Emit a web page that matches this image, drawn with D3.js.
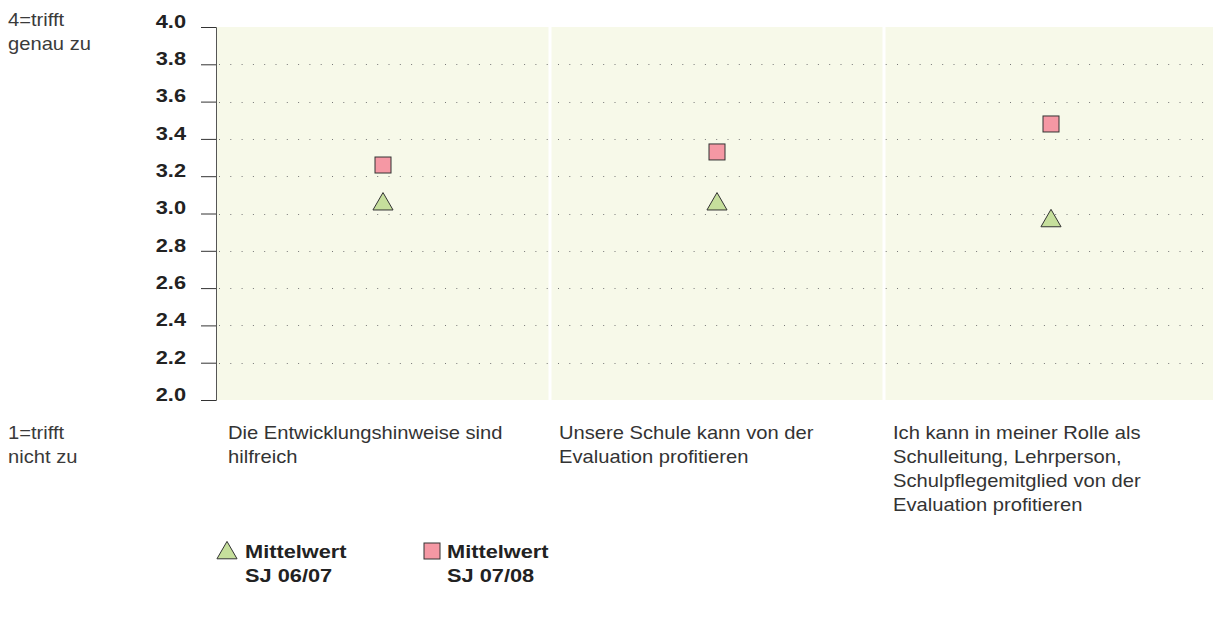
<!DOCTYPE html>
<html>
<head>
<meta charset="utf-8">
<script src="https://cdn.jsdelivr.net/npm/d3@7"></script>
<style>
  body { margin: 0; background: #fff; }
  svg { display: block; font-family: "Liberation Sans", Arial, sans-serif; }
</style>
</head>
<body>
<svg width="1213" height="618"></svg>
<script>
// data
const categories = [
    ["Die Entwicklungshinweise sind", "hilfreich"],
    ["Unsere Schule kann von der", "Evaluation profitieren"],
    ["Ich kann in meiner Rolle als", "Schulleitung, Lehrperson,", "Schulpflegemitglied von der", "Evaluation profitieren"]
];
const mittel0607 = [3.05, 3.05, 2.96];
const mittel0708 = [3.26, 3.33, 3.48];
const yTicks = [2.0, 2.2, 2.4, 2.6, 2.8, 3.0, 3.2, 3.4, 3.6, 3.8, 4.0];
const seriesNames = [["Mittelwert", "SJ 06/07"], ["Mittelwert", "SJ 07/08"]];

const plotLeft = 216, plotRight = 1213, plotTop = 27, plotBottom = 400;
const wideReg = 1.12, wideBold = 1.21;

const svg = d3.select('svg');

// text slightly stretched sideways like the original typeface
function addText(g, x, y, str, sx) {
    return g.append('text')
        .attr('transform', `translate(${x},${y}) scale(${sx},1)`)
        .text(str);
}

const xScale = d3.scaleBand()
    .domain(d3.range(categories.length))
    .range([plotLeft, plotRight + 5]);

const yScale = d3.scaleLinear()
    .domain([2, 4])
    .range([plotBottom, plotTop]);

// background bands
svg.selectAll('rect.band')
    .data(categories)
    .enter()
    .append('rect')
    .attr('class', 'band')
    .attr('x', (d, i) => xScale(i) + (i > 0 ? 1.5 : 0))
    .attr('y', plotTop)
    .attr('width', (d, i) => xScale.bandwidth() - (i > 0 ? 1.5 : 0) - 1.5)
    .attr('height', plotBottom - plotTop)
    .attr('fill', '#f7f9e9');

// dotted grid
svg.selectAll('line.grid')
    .data(yTicks.filter(t => t > 2 && t < 4))
    .enter()
    .append('line')
    .attr('x1', plotLeft + 3)
    .attr('x2', plotRight)
    .attr('y1', d => Math.round(yScale(d)) + 0.5)
    .attr('y2', d => Math.round(yScale(d)) + 0.5)
    .attr('stroke', '#777')
    .attr('stroke-width', 1)
    .attr('stroke-dasharray', '1,10.3');

// y axis
const yAxis = svg.append('g')
    .attr('transform', `translate(${plotLeft},0)`)
    .call(d3.axisLeft(yScale).tickValues(yTicks).tickFormat(d3.format('.1f')).tickSize(15).tickPadding(15));
yAxis.select('.domain').attr('stroke', '#555').attr('d', `M-15,${plotBottom}.5H0.5V${plotTop}.5H-15`);
yAxis.selectAll('.tick line').attr('stroke', '#333');
yAxis.selectAll('.tick text')
    .attr('font-size', 18)
    .attr('font-weight', 'bold')
    .attr('fill', '#222')
    .attr('x', -30 / wideBold)
    .attr('dy', '0.02em')
    .attr('transform', `scale(${wideBold},1)`);

// side notes
const note = svg.append('g').attr('font-size', 18).attr('fill', '#3a3a3a');
[["4=trifft", 8, 26], ["genau zu", 8, 50], ["1=trifft", 8, 439], ["nicht zu", 8, 463]].forEach(n => {
    addText(note, n[1], n[2], n[0], wideReg);
});

// category labels
const cat = svg.append('g').attr('font-size', 18).attr('fill', '#333');
categories.forEach((lines, i) => {
    lines.forEach((l, j) => {
        addText(cat, xScale(i) + (i === 0 ? 12 : 9), 439 + j * 24, l, wideReg);
    });
});

const tri = d3.symbol().type(d3.symbolTriangle).size(175);

// squares
svg.selectAll('rect.sq')
    .data(mittel0708)
    .enter()
    .append('rect')
    .attr('class', 'sq')
    .attr('x', (d, i) => xScale(i) + xScale.bandwidth() / 2 - 8)
    .attr('y', d => yScale(d) - 8)
    .attr('width', 16)
    .attr('height', 16)
    .attr('fill', '#f598a4')
    .attr('stroke', '#333')
    .attr('stroke-width', 1);

// triangles
svg.selectAll('path.tri')
    .data(mittel0607)
    .enter()
    .append('path')
    .attr('class', 'tri')
    .attr('d', tri)
    .attr('transform', (d, i) => `translate(${xScale(i) + xScale.bandwidth() / 2},${yScale(d)})`)
    .attr('fill', '#c6df9c')
    .attr('stroke', '#333')
    .attr('stroke-width', 1);

// legend
const leg = svg.append('g').attr('font-size', 18).attr('font-weight', 'bold').attr('fill', '#222');
leg.append('path')
    .attr('d', tri)
    .attr('transform', 'translate(227,553)')
    .attr('fill', '#c6df9c')
    .attr('stroke', '#333');
leg.append('rect')
    .attr('x', 424).attr('y', 543)
    .attr('width', 16).attr('height', 16)
    .attr('fill', '#f598a4')
    .attr('stroke', '#333');
[[245, seriesNames[0]], [447, seriesNames[1]]].forEach(s => {
    s[1].forEach((t, j) => {
        addText(leg, s[0], 558 + j * 24, t, wideBold);
    });
});
</script>
</body>
</html>
